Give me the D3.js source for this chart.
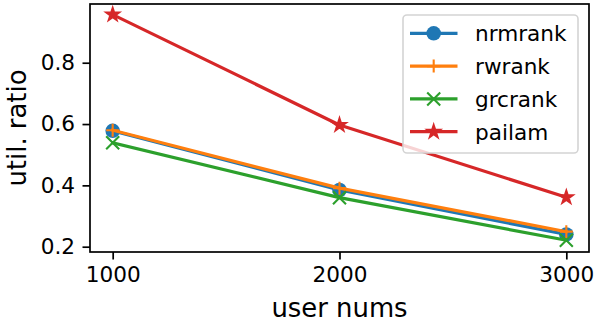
<!DOCTYPE html>
<html>
<head>
<meta charset="utf-8">
<script src="https://cdn.jsdelivr.net/npm/d3@7"></script>
<style>
  body { margin: 0; background: #fff; }
  text { font-family: "DejaVu Sans", sans-serif; fill: #000; }
</style>
</head>
<body>
<svg id="chart" width="598" height="322"></svg>
<script>
// values
const userNums = [1000, 2000, 3000];
const nrmrank = [0.578, 0.385, 0.240];
const rwrank = [0.580, 0.391, 0.249];
const grcrank = [0.539, 0.360, 0.221];
const pailam = [0.957, 0.597, 0.361];
const seriesNames = ['nrmrank', 'rwrank', 'grcrank', 'pailam'];
const yTicks = [0.2, 0.4, 0.6, 0.8];

const seriesValues = [nrmrank, rwrank, grcrank, pailam];
const colors = ['#1f77b4', '#ff7f0e', '#2ca02c', '#d62728'];
const markers = ['circle', 'plus', 'cross', 'star'];

const box = {left: 90, right: 589, top: 4, bottom: 252};
const svg = d3.select('#chart');

const x = d3.scaleLinear().domain([900, 3100]).range([box.left, box.right]);
const y = d3.scaleLinear().domain([0.1827, 0.9915]).range([box.bottom, box.top]);

// marker path for one point, size in px (matplotlib markersize 6 at this dpi)
function markerPath(kind, s) {
  const h = s / 2;
  if (kind === 'plus') return `M${-h},0H${h}M0,${-h}V${h}`;
  if (kind === 'cross') return `M${-h},${-h}L${h},${h}M${-h},${h}L${h},${-h}`;
  if (kind === 'star') {
    const pts = [];
    for (let i = 0; i < 10; i++) {
      const r = i % 2 === 0 ? h : h * 0.381966;
      const a = -Math.PI / 2 + i * Math.PI / 5;
      pts.push([r * Math.cos(a), r * Math.sin(a)]);
    }
    return 'M' + pts.map(p => p.join(',')).join('L') + 'Z';
  }
  return null;
}

function drawMarker(g, kind, color) {
  if (kind === 'circle') {
    g.append('circle').attr('r', 7.3).attr('fill', color);
  } else if (kind === 'star') {
    g.append('path').attr('d', markerPath(kind, 13))
      .attr('fill', color).attr('stroke', color).attr('stroke-width', 2.1)
      .attr('stroke-linejoin', 'miter');
  } else {
    g.append('path').attr('d', markerPath(kind, 13))
      .attr('fill', 'none').attr('stroke', color).attr('stroke-width', 2.1);
  }
}

// axes
const xAxis = svg.append('g')
  .attr('transform', `translate(0,${box.bottom})`)
  .call(d3.axisBottom(x).tickValues(userNums).tickFormat(d3.format('d'))
    .tickSize(7.5).tickPadding(7));
xAxis.select('.domain').remove();
xAxis.selectAll('.tick line').attr('stroke', '#000').attr('stroke-width', 1.7);
xAxis.selectAll('.tick text').style('font-size', '21.6px')
  .style('font-family', '"DejaVu Sans", sans-serif');

const yAxis = svg.append('g')
  .attr('transform', `translate(${box.left},0)`)
  .call(d3.axisLeft(y).tickValues(yTicks).tickFormat(d3.format('.1f'))
    .tickSize(7.5).tickPadding(7.5));
yAxis.select('.domain').remove();
yAxis.selectAll('.tick line').attr('stroke', '#000').attr('stroke-width', 1.7);
yAxis.selectAll('.tick text').style('font-size', '21.6px')
  .style('font-family', '"DejaVu Sans", sans-serif');

// lines + markers
const line = d3.line().x((d, i) => x(userNums[i])).y(d => y(d));
seriesValues.forEach((vals, k) => {
  const g = svg.append('g');
  g.append('path').datum(vals).attr('d', line)
    .attr('fill', 'none').attr('stroke', colors[k]).attr('stroke-width', 3.2)
    .attr('stroke-linejoin', 'round').attr('stroke-linecap', 'square');
  vals.forEach((v, i) => {
    const m = g.append('g').attr('transform', `translate(${x(userNums[i])},${y(v)})`);
    drawMarker(m, markers[k], colors[k]);
  });
});

// frame
svg.append('rect')
  .attr('x', box.left).attr('y', box.top)
  .attr('width', box.right - box.left).attr('height', box.bottom - box.top)
  .attr('fill', 'none').attr('stroke', '#000').attr('stroke-width', 1.7);

// axis labels
svg.append('text')
  .attr('x', (box.left + box.right) / 2).attr('y', 317)
  .attr('text-anchor', 'middle').style('font-size', '25.9px')
  .text('user nums');
svg.append('text')
  .attr('transform', `translate(26,${(box.top + box.bottom) / 2}) rotate(-90)`)
  .attr('text-anchor', 'middle').style('font-size', '25.9px')
  .text('util. ratio');

// legend
const legend = svg.append('g');
legend.append('rect')
  .attr('x', 403).attr('y', 15).attr('width', 175).attr('height', 138)
  .attr('rx', 4).attr('fill', 'rgba(255,255,255,0.8)')
  .attr('stroke', '#d4d4d4').attr('stroke-width', 1.6);
seriesNames.forEach((name, k) => {
  const cy = 33.3 + k * 32.8;
  const row = legend.append('g');
  row.append('line').attr('x1', 410).attr('x2', 457.5).attr('y1', cy).attr('y2', cy)
    .attr('stroke', colors[k]).attr('stroke-width', 3.2);
  const m = row.append('g').attr('transform', `translate(433.7,${cy})`);
  drawMarker(m, markers[k], colors[k]);
  row.append('text').attr('x', 475).attr('y', cy + 7.8)
    .style('font-size', '21.6px').text(name);
});
</script>
</body>
</html>
